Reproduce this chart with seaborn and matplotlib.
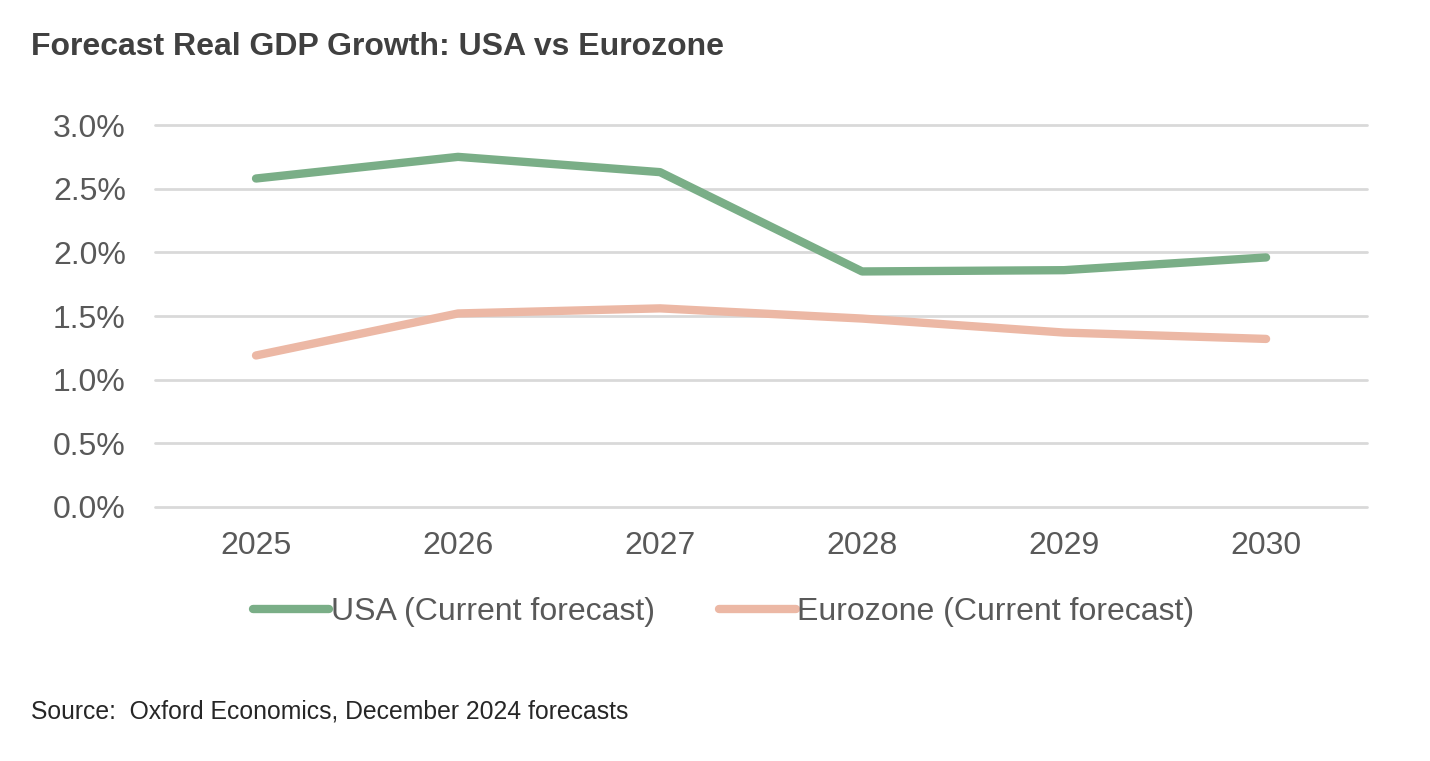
import matplotlib
matplotlib.use("Agg")
import matplotlib.pyplot as plt
import seaborn as sns
import pandas as pd

# values (percent)
years = ["2025", "2026", "2027", "2028", "2029", "2030"]
usa = [2.58, 2.75, 2.63, 1.85, 1.86, 1.96]
eurozone = [1.19, 1.52, 1.56, 1.48, 1.37, 1.32]
series_names = ["USA (Current forecast)", "Eurozone (Current forecast)"]
yticks = [0.0, 0.5, 1.0, 1.5, 2.0, 2.5, 3.0]

colors = {series_names[0]: "#7aae87", series_names[1]: "#ecb8a5"}

df = pd.DataFrame({
    "year": years * 2,
    "growth": usa + eurozone,
    "series": [series_names[0]] * len(years) + [series_names[1]] * len(years),
})

sns.set_theme(style="white")
plt.rcParams['font.family'] = ['Liberation Sans', 'DejaVu Sans']

fig = plt.figure(figsize=(14.3, 7.61), dpi=100)
ax = fig.add_axes([0.1084, 0.3338, 0.8476, 0.5019])

sns.lineplot(data=df, x="year", y="growth", hue="series", palette=colors,
             linewidth=6, solid_capstyle="round", ax=ax, legend=False, sort=False)

ax.set_xlim(-0.5, 5.5)
ax.set_ylim(0, 3.0)
ax.set_yticks(yticks)
ax.set_yticklabels([f"{v:.1f}%" for v in yticks])
ax.yaxis.grid(True, color="#d9d9d9", linewidth=2)
ax.set_axisbelow(True)
for gl in ax.get_ygridlines():
    gl.set_clip_on(False)
for s in ax.spines.values():
    s.set_visible(False)
ax.tick_params(axis="both", length=0, labelsize=23, labelcolor="#595959")
ax.tick_params(axis="y", pad=21)
ax.tick_params(axis="x", pad=17)
ax.set_xlabel("")
ax.set_ylabel("")

handles = [plt.Line2D([0], [0], color=colors[n], linewidth=6, solid_capstyle="round")
           for n in series_names]
leg = fig.legend(handles, series_names, loc="center", bbox_to_anchor=(0.506, 1 - 612 / 761),
                 ncol=2, frameon=False, fontsize=23, handlelength=2.4,
                 handletextpad=0.05, columnspacing=2.0)
for t in leg.get_texts():
    t.set_color("#595959")

fig.text(0.0217, 1 - 47 / 761, "Forecast Real GDP Growth: USA vs Eurozone",
         fontsize=23, fontweight="bold", color="#404040", va="center", ha="left")
fig.text(0.0217, 1 - 711 / 761, "Source:  Oxford Economics, December 2024 forecasts",
         fontsize=17.8, color="#262626", va="center", ha="left")

fig.savefig("out.png", dpi=100, facecolor="white")
